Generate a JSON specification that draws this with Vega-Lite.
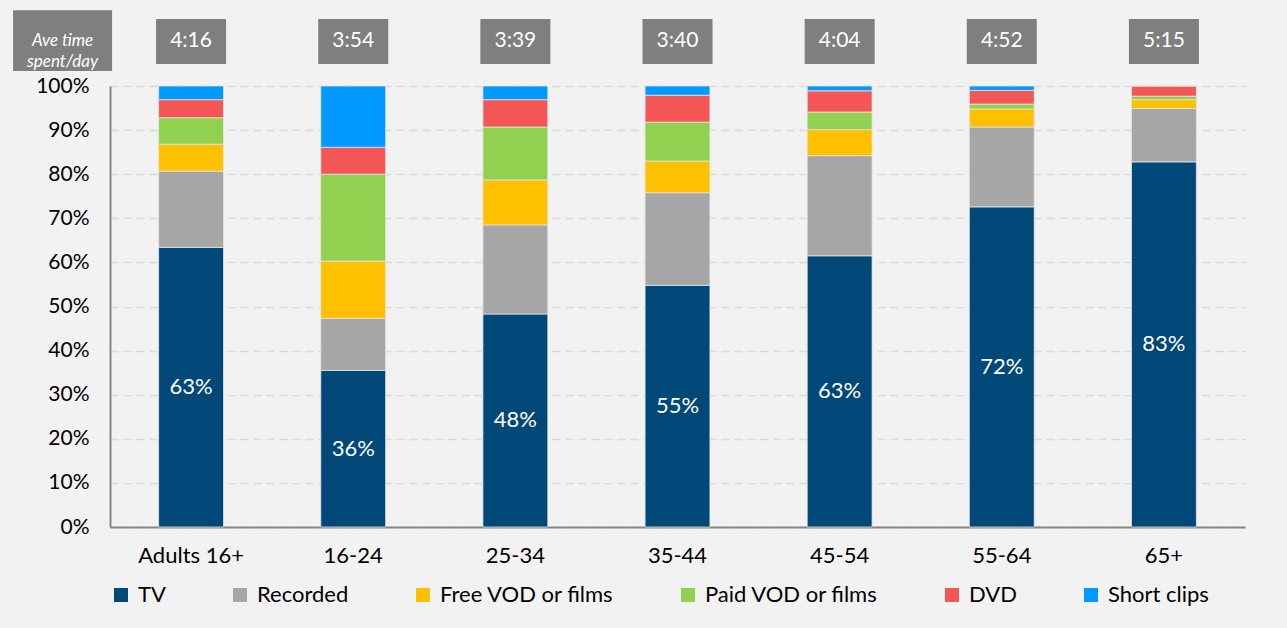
{
  "$schema": "https://vega.github.io/schema/vega-lite/v6.json",
  "autosize": "none",
  "width": 1135,
  "height": 441,
  "padding": {"left": 110, "top": 86, "right": 42, "bottom": 101},
  "background": "#f2f2f2",
  "config": {
    "font": "Lato",
    "view": {"stroke": null},
    "axis": {"labelFont": "Lato", "labelColor": "#000000"},
    "legend": {"labelFont": "Lato"}
  },
  "datasets": {
    "share": [
      {"age": "Adults 16+", "type": "TV", "k": 1, "value": 0.634, "label": "63%"},
      {"age": "Adults 16+", "type": "Recorded", "k": 2, "value": 0.173},
      {"age": "Adults 16+", "type": "Free VOD or films", "k": 3, "value": 0.061},
      {"age": "Adults 16+", "type": "Paid VOD or films", "k": 4, "value": 0.060},
      {"age": "Adults 16+", "type": "DVD", "k": 5, "value": 0.041},
      {"age": "Adults 16+", "type": "Short clips", "k": 6, "value": 0.031},
      {"age": "16-24", "type": "TV", "k": 1, "value": 0.355, "label": "36%"},
      {"age": "16-24", "type": "Recorded", "k": 2, "value": 0.118},
      {"age": "16-24", "type": "Free VOD or films", "k": 3, "value": 0.130},
      {"age": "16-24", "type": "Paid VOD or films", "k": 4, "value": 0.197},
      {"age": "16-24", "type": "DVD", "k": 5, "value": 0.061},
      {"age": "16-24", "type": "Short clips", "k": 6, "value": 0.139},
      {"age": "25-34", "type": "TV", "k": 1, "value": 0.483, "label": "48%"},
      {"age": "25-34", "type": "Recorded", "k": 2, "value": 0.202},
      {"age": "25-34", "type": "Free VOD or films", "k": 3, "value": 0.102},
      {"age": "25-34", "type": "Paid VOD or films", "k": 4, "value": 0.120},
      {"age": "25-34", "type": "DVD", "k": 5, "value": 0.062},
      {"age": "25-34", "type": "Short clips", "k": 6, "value": 0.031},
      {"age": "35-44", "type": "TV", "k": 1, "value": 0.548, "label": "55%"},
      {"age": "35-44", "type": "Recorded", "k": 2, "value": 0.210},
      {"age": "35-44", "type": "Free VOD or films", "k": 3, "value": 0.072},
      {"age": "35-44", "type": "Paid VOD or films", "k": 4, "value": 0.088},
      {"age": "35-44", "type": "DVD", "k": 5, "value": 0.061},
      {"age": "35-44", "type": "Short clips", "k": 6, "value": 0.021},
      {"age": "45-54", "type": "TV", "k": 1, "value": 0.615, "label": "63%"},
      {"age": "45-54", "type": "Recorded", "k": 2, "value": 0.227},
      {"age": "45-54", "type": "Free VOD or films", "k": 3, "value": 0.059},
      {"age": "45-54", "type": "Paid VOD or films", "k": 4, "value": 0.040},
      {"age": "45-54", "type": "DVD", "k": 5, "value": 0.048},
      {"age": "45-54", "type": "Short clips", "k": 6, "value": 0.011},
      {"age": "55-64", "type": "TV", "k": 1, "value": 0.726, "label": "72%"},
      {"age": "55-64", "type": "Recorded", "k": 2, "value": 0.181},
      {"age": "55-64", "type": "Free VOD or films", "k": 3, "value": 0.041},
      {"age": "55-64", "type": "Paid VOD or films", "k": 4, "value": 0.011},
      {"age": "55-64", "type": "DVD", "k": 5, "value": 0.031},
      {"age": "55-64", "type": "Short clips", "k": 6, "value": 0.010},
      {"age": "65+", "type": "TV", "k": 1, "value": 0.828, "label": "83%"},
      {"age": "65+", "type": "Recorded", "k": 2, "value": 0.121},
      {"age": "65+", "type": "Free VOD or films", "k": 3, "value": 0.020},
      {"age": "65+", "type": "Paid VOD or films", "k": 4, "value": 0.008},
      {"age": "65+", "type": "DVD", "k": 5, "value": 0.023},
      {"age": "65+", "type": "Short clips", "k": 6, "value": 0.0}
    ],
    "times": [
      {"age": "Adults 16+", "time": "4:16"},
      {"age": "16-24", "time": "3:54"},
      {"age": "25-34", "time": "3:39"},
      {"age": "35-44", "time": "3:40"},
      {"age": "45-54", "time": "4:04"},
      {"age": "55-64", "time": "4:52"},
      {"age": "65+", "time": "5:15"}
    ]
  },
  "resolve": {"scale": {"y": "independent"}},
  "layer": [
    {
      "layer": [
        {
          "data": {"name": "share"},
          "mark": {"type": "bar", "stroke": "#e4e4e4", "strokeWidth": 0.8},
          "encoding": {
            "x": {
              "field": "age",
              "type": "nominal",
              "sort": ["Adults 16+", "16-24", "25-34", "35-44", "45-54", "55-64", "65+"],
              "scale": {"paddingInner": 0.6, "paddingOuter": 0.3},
              "axis": {
                "title": null,
                "labelAngle": 0,
                "labelFontSize": 22,
                "labelPadding": 18,
                "ticks": false,
                "domainColor": "#868686",
                "domainWidth": 2
              }
            },
            "y": {
              "field": "value",
              "type": "quantitative",
              "stack": "zero",
              "scale": {"domain": [0, 1], "nice": false},
              "axis": {
                "title": null,
                "format": ".0%",
                "values": [0, 0.1, 0.2, 0.3, 0.4, 0.5, 0.6, 0.7, 0.8, 0.9, 1],
                "labelOverlap": false,
                "labelFontSize": 21,
                "labelPadding": 21,
                "ticks": false,
                "domainColor": "#868686",
                "domainWidth": 2,
                "gridColor": "#d9d9d9",
                "gridWidth": 1.5,
                "gridDash": [8, 5]
              }
            },
            "order": {"field": "k", "type": "quantitative", "sort": "ascending"},
            "color": {
              "field": "type",
              "type": "nominal",
              "sort": ["TV", "Recorded", "Free VOD or films", "Paid VOD or films", "DVD", "Short clips"],
              "scale": {
                "domain": ["TV", "Recorded", "Free VOD or films", "Paid VOD or films", "DVD", "Short clips"],
                "range": ["#004878", "#a6a6a6", "#ffc000", "#92d050", "#f45555", "#0099ff"]
              },
              "legend": {
                "title": null,
                "orient": "bottom",
                "direction": "horizontal",
                "symbolType": "square",
                "symbolSize": 196,
                "symbolStrokeWidth": 0,
                "labelFontSize": 22,
                "labelLimit": 400,
                "labelOffset": 6,
                "columnPadding": 63,
                "offset": 18
              }
            }
          }
        },
        {
          "data": {"name": "times"},
          "mark": {"type": "bar", "color": "#7f7f7f", "width": 70},
          "encoding": {
            "x": {"field": "age", "type": "nominal", "sort": ["Adults 16+", "16-24", "25-34", "35-44", "45-54", "55-64", "65+"]},
            "y": {"datum": 1.05, "type": "quantitative"},
            "y2": {"datum": 1.152}
          }
        },
        {
          "data": {"name": "times"},
          "mark": {"type": "text", "color": "#ffffff", "fontSize": 21, "baseline": "middle", "align": "center"},
          "encoding": {
            "x": {"field": "age", "type": "nominal", "sort": ["Adults 16+", "16-24", "25-34", "35-44", "45-54", "55-64", "65+"]},
            "y": {"datum": 1.101, "type": "quantitative"},
            "text": {"field": "time"}
          }
        },
        {
          "data": {"values": [{"note": "Ave time spent/day"}]},
          "mark": {"type": "bar", "color": "#7f7f7f", "width": 99, "xOffset": -128.5},
          "encoding": {
            "x": {"datum": "Adults 16+", "type": "nominal"},
            "y": {"datum": 1.034, "type": "quantitative"},
            "y2": {"datum": 1.172}
          }
        },
        {
          "data": {"values": [{"note": "Ave time spent/day"}]},
          "mark": {"type": "text", "color": "#ffffff", "fontSize": 17, "fontStyle": "italic", "baseline": "middle", "align": "center", "lineHeight": 21, "xOffset": -128.5, "text": ["Ave time", "spent/day"]},
          "encoding": {
            "x": {"datum": "Adults 16+", "type": "nominal"},
            "y": {"datum": 1.103, "type": "quantitative"}
          }
        }
      ]
    },
    {
      "data": {"name": "share"},
      "transform": [{"filter": "datum.type === 'TV'"}],
      "mark": {"type": "text", "color": "#ffffff", "fontSize": 22, "baseline": "middle", "align": "center"},
      "encoding": {
        "x": {"field": "age", "type": "nominal", "sort": ["Adults 16+", "16-24", "25-34", "35-44", "45-54", "55-64", "65+"]},
        "y": {"field": "value", "type": "quantitative", "scale": {"domain": [0, 2], "nice": false}, "axis": null},
        "text": {"field": "label"}
      }
    }
  ]
}
